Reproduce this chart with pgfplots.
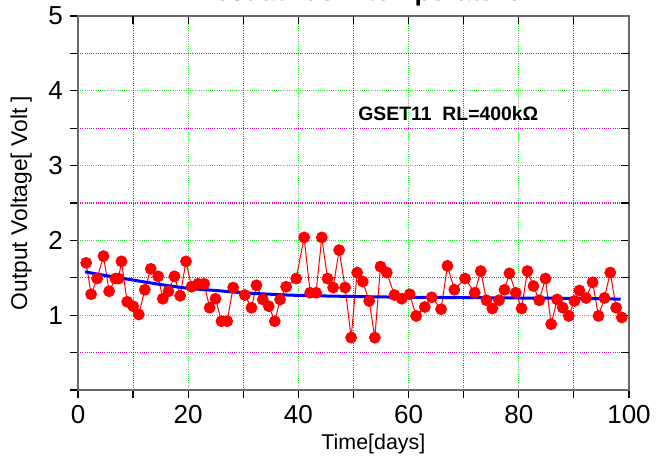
\documentclass[border=0pt]{standalone}
\usepackage{fontspec}
\setmainfont{Liberation Sans}
\usepackage{pgfplots}
\pgfplotsset{compat=1.18}

\definecolor{gridgreen}{RGB}{40,230,40}
\definecolor{gridmag}{RGB}{225,0,190}
\definecolor{framegray}{RGB}{105,105,105}

\pgfplotsset{
  common/.style={
    scale only axis, width=275.5pt, height=187pt,
    at={(0,0)}, anchor=south west,
    xmin=0, xmax=100, ymin=0, ymax=5,
    xtick={0,20,...,100}, ytick={0,1,...,5},
    extra x ticks={10,30,50,70,90}, extra y ticks={0.5,1.5,2.5,3.5,4.5},
    extra x tick labels={}, extra y tick labels={},
    axis line style={framegray, line width=1pt},
    major tick length=4pt,
    tick style={black, line width=0.6pt},
  },
}

\begin{document}
\begin{tikzpicture}
\begin{axis}[common, name=main,
  tick align=outside, xtick pos=lower, ytick pos=left,
  xmajorgrids, ymajorgrids,
  major grid style={gridgreen, dash pattern=on 0.5pt off 0.6pt, line width=0.55pt},
  extra tick style={major grid style={gridmag, dash pattern=on 0.5pt off 0.6pt, line width=0.55pt}},
  yticklabels={,1,2,3,4,5},
  ticklabel style={font=\fontsize{13}{15}\selectfont},
  /pgf/number format/assume math mode=true,
  xlabel={Time[days]},
  ylabel={Output Voltage[ Volt ]},
  xlabel style={font=\fontsize{10.7}{13}\selectfont, at={(axis description cs:0.536,-0.144)}, anchor=center},
  ylabel style={font=\fontsize{11.4}{13}\selectfont, at={(axis description cs:-0.103,0.5)}, anchor=center},
]
% measured voltage
\addplot[red, line width=0.5pt, mark=*, mark size=2.7pt, mark options={fill=red, draw=red}] coordinates {
(1.48,1.70) (2.38,1.28) (3.47,1.49) (4.62,1.79) (5.65,1.32) (6.80,1.49)
(7.35,1.49) (7.89,1.72) (8.92,1.18) (10.0,1.12) (11.03,1.01) (12.13,1.34)
(13.21,1.62) (14.54,1.52) (15.39,1.22) (16.42,1.32) (17.51,1.52) (18.54,1.26)
(19.6,1.72) (20.6,1.38) (21.8,1.42) (22.9,1.42) (23.9,1.10) (24.95,1.22)
(26.04,0.92) (27.07,0.92) (28.15,1.37) (30.27,1.27) (31.48,1.10) (32.39,1.40)
(33.54,1.21) (34.63,1.12) (35.72,0.92) (36.68,1.21) (37.77,1.38) (39.6,1.49)
(41.04,2.04) (42.13,1.30) (43.2,1.30) (44.25,2.04) (45.28,1.49) (46.3,1.37)
(47.39,1.87) (48.48,1.37) (49.57,0.70) (50.66,1.57) (51.69,1.45) (52.84,1.19)
(53.87,0.70) (54.9,1.65) (56.04,1.57) (57.43,1.27) (58.75,1.22) (60.2,1.28)
(61.37,0.99) (62.94,1.11) (64.2,1.24) (65.9,1.08) (67.05,1.66) (68.3,1.34)
(70.26,1.49) (72.0,1.30) (73.1,1.59) (74.13,1.20) (75.2,1.09) (76.4,1.20)
(77.4,1.34) (78.3,1.56) (79.45,1.30) (80.5,1.09) (81.57,1.59) (82.66,1.39)
(83.7,1.20) (84.84,1.49) (85.87,0.88) (86.96,1.21) (87.98,1.10) (89.07,0.99)
(90.1,1.19) (91.0,1.33) (92.2,1.23) (93.4,1.44) (94.45,0.99) (95.55,1.23)
(96.6,1.57) (97.66,1.10) (98.7,0.97)
};
% fitted curve
\addplot[blue, line width=1.5pt, smooth] coordinates {
(1.3,1.58) (5,1.53) (10,1.47) (15,1.41) (20,1.36) (25,1.33) (30,1.30)
(35,1.28) (40,1.265) (50,1.25) (60,1.24) (70,1.235) (80,1.23) (90,1.225) (98.5,1.215)
};
\node[anchor=base west, font=\bfseries\fontsize{9.7}{12}\selectfont, inner sep=0pt] at (axis cs:50.8,3.60) {GSET11\ \ RL=400kΩ};
\end{axis}
\begin{axis}[common,
  tick align=inside, xtick pos=upper, ytick pos=right,
  xticklabels={}, yticklabels={},
]
\end{axis}
% title, cut by the top edge as in the original
\node[anchor=base, font=\bfseries\fontsize{13.4}{16}\selectfont, inner sep=0pt] at ([xshift=3.9pt, yshift=7.8pt]main.north) {Test at room temperature};
\pgfresetboundingbox
\useasboundingbox (-39pt,-33.5pt) rectangle (291.5pt,195pt);
\end{tikzpicture}
\end{document}
